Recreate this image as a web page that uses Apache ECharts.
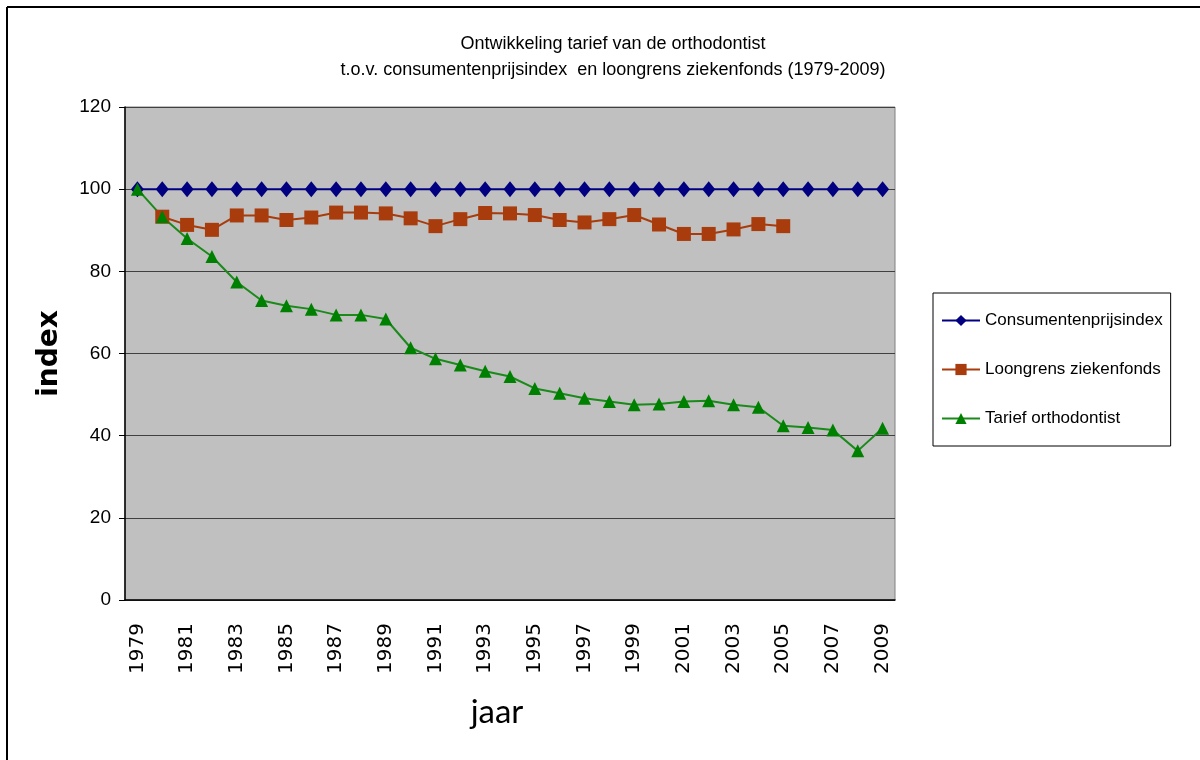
<!DOCTYPE html>
<html>
<head>
<meta charset="utf-8">
<script src="https://cdn.jsdelivr.net/npm/echarts@6/dist/echarts.min.js"></script>
<style>
  html, body { margin: 0; padding: 0; background: #fff; }
  #chart { width: 1200px; height: 760px; }
</style>
</head>
<body>
<div id="chart"></div>
<script>
// years on the x axis
const years = [
  "1979", "1980", "1981", "1982", "1983", "1984", "1985", "1986", "1987", "1988",
  "1989", "1990", "1991", "1992", "1993", "1994", "1995", "1996", "1997", "1998",
  "1999", "2000", "2001", "2002", "2003", "2004", "2005", "2006", "2007", "2008", "2009"
];
// consumentenprijsindex (base = 100)
const cpi = [
  100, 100, 100, 100, 100, 100, 100, 100, 100, 100,
  100, 100, 100, 100, 100, 100, 100, 100, 100, 100,
  100, 100, 100, 100, 100, 100, 100, 100, 100, 100, 100
];
// loongrens ziekenfonds, 1980-2005 (no point drawn for 1979)
const loongrens = [
  null, 93.3, 91.3, 90.1, 93.6, 93.6, 92.5, 93.1, 94.3, 94.3,
  94.1, 92.9, 91.0, 92.7, 94.2, 94.1, 93.7, 92.5, 91.9, 92.7,
  93.7, 91.4, 89.1, 89.1, 90.2, 91.5, 91.0
];
// tarief orthodontist
const tarief = [
  100, 93.3, 88.0, 83.6, 77.4, 72.9, 71.6, 70.8, 69.4, 69.4,
  68.4, 61.4, 58.7, 57.2, 55.7, 54.4, 51.5, 50.3, 49.1, 48.3,
  47.5, 47.7, 48.3, 48.5, 47.5, 46.9, 42.4, 42.0, 41.4, 36.3, 41.8
];
const titleLines = [
  "Ontwikkeling tarief van de orthodontist",
  "t.o.v. consumentenprijsindex  en loongrens ziekenfonds (1979-2009)"
];

const font = "'Liberation Sans', Arial, sans-serif";
let my_chart = echarts.init(document.getElementById("chart"));
my_chart.setOption({
  animation: false,
  backgroundColor: "#fff",
  title: {
    text: titleLines.join("\n"),
    left: 608,
    top: 26,
    textAlign: "center",
    textStyle: {
      fontFamily: font,
      fontSize: 18,
      fontWeight: "normal",
      color: "#000",
      lineHeight: 26,
    },
  },
  graphic: [
    { type: "line", shape: { x1: 7, y1: 7, x2: 1200, y2: 7 }, style: { stroke: "#000", lineWidth: 2 } },
    { type: "line", shape: { x1: 7, y1: 7, x2: 7, y2: 760 }, style: { stroke: "#000", lineWidth: 2 } },
  ],
  legend: {
    orient: "vertical",
    left: 933,
    top: 293,
    padding: [19, 8, 19, 8],
    itemGap: 32,
    itemWidth: 38,
    itemHeight: 14,
    backgroundColor: "#fff",
    borderColor: "#000",
    borderWidth: 1,
    textStyle: { fontFamily: font, fontSize: 17, color: "#000" },
    data: ["Consumentenprijsindex", "Loongrens ziekenfonds", "Tarief orthodontist"],
  },
  grid: {
    left: 125,
    right: 305,
    top: 107,
    bottom: 160,
    show: true,
    backgroundColor: "#c0c0c0",
    borderColor: "#808080",
    borderWidth: 1,
  },
  xAxis: {
    type: "category",
    data: years,
    boundaryGap: true,
    name: "jaar",
    nameLocation: "middle",
    nameGap: 96,
    nameTextStyle: {
      fontFamily: "Lato, sans-serif",
      fontSize: 33,
      color: "#000",
      padding: [0, 26, 0, 0],
    },
    axisLine: { lineStyle: { color: "#000", width: 1.5 } },
    axisTick: { interval: 0, length: 6, lineStyle: { color: "#000" } },
    axisLabel: {
      interval: 1,
      rotate: 90,
      margin: 23,
      fontFamily: "'DejaVu Sans', sans-serif",
      fontSize: 20,
      color: "#000",
    },
    splitLine: { show: false },
  },
  yAxis: {
    type: "value",
    min: 0,
    max: 120,
    interval: 20,
    name: "index",
    nameLocation: "middle",
    nameGap: 61,
    nameRotate: 90,
    nameTextStyle: { fontFamily: "'DejaVu Sans', sans-serif", fontSize: 28, fontWeight: "bold", color: "#000" },
    axisLine: { show: true, lineStyle: { color: "#000", width: 1.5 } },
    axisTick: { show: true, length: 6, lineStyle: { color: "#000" } },
    axisLabel: { margin: 14, fontFamily: font, fontSize: 19, color: "#000" },
    splitLine: { lineStyle: { color: "#404040", width: 1 } },
  },
  series: [
    {
      name: "Consumentenprijsindex",
      type: "line",
      data: cpi,
      symbol: "diamond",
      symbolSize: [13, 16],
      itemStyle: { color: "#000080" },
      lineStyle: { color: "#000080", width: 2 },
    },
    {
      name: "Loongrens ziekenfonds",
      type: "line",
      data: loongrens,
      symbol: "rect",
      symbolSize: 14,
      itemStyle: { color: "#a83c0c" },
      lineStyle: { color: "#a83c0c", width: 2 },
    },
    {
      name: "Tarief orthodontist",
      type: "line",
      data: tarief,
      symbol: "triangle",
      symbolSize: 13,
      itemStyle: { color: "#008000" },
      lineStyle: { color: "#1a8a1a", width: 2 },
    },
  ],
});
</script>
</body>
</html>
